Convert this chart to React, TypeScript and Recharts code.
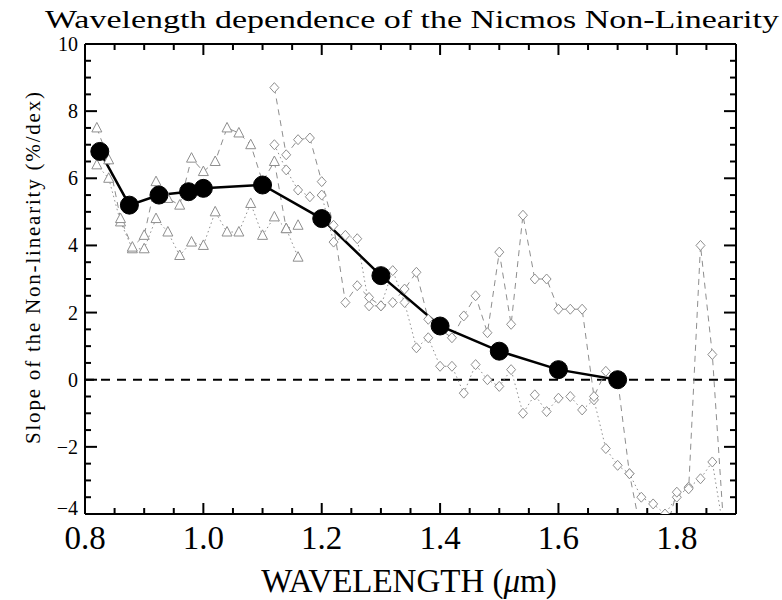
import React from 'react';
import { LineChart, Line, XAxis, YAxis, ReferenceLine } from 'recharts';

// NICMOS non-linearity slope vs wavelength (um)
const mainX = [0.825, 0.875, 0.925, 0.975, 1.0, 1.1, 1.2, 1.3, 1.4, 1.5, 1.6, 1.7];
const mainY = [6.8, 5.2, 5.5, 5.6, 5.7, 5.8, 4.8, 3.1, 1.6, 0.85, 0.3, 0.0];

// narrow-band samples, short wavelengths (triangles)
const triX = [0.82, 0.84, 0.86, 0.88, 0.9, 0.92, 0.94, 0.96, 0.98, 1.0, 1.02, 1.04, 1.06, 1.08, 1.1, 1.12, 1.14, 1.16];
const triDashed = [7.5, 6.55, 4.8, 3.95, 4.3, 5.9, 5.4, 5.2, 6.6, 6.2, 6.5, 7.5, 7.35, 7.0, 5.9, 6.5, 4.5, 4.6];
const triDotted = [6.4, 6.0, 4.7, 3.9, 3.9, 4.8, 4.4, 3.7, 4.1, 4.0, 5.0, 4.4, 4.4, 5.25, 4.3, 4.85, 4.5, 3.65];

// narrow-band samples, long wavelengths (diamonds)
const diaX = [
  1.12, 1.14, 1.16, 1.18, 1.2, 1.22, 1.24, 1.26, 1.28, 1.3, 1.32, 1.34, 1.36, 1.38, 1.4, 1.42, 1.44, 1.46, 1.48, 1.5,
  1.52, 1.54, 1.56, 1.58, 1.6, 1.62, 1.64, 1.66, 1.68, 1.7, 1.72, 1.74, 1.76, 1.78, 1.8, 1.82, 1.84, 1.86, 1.88,
];
const diaDashed = [
  8.7, 6.7, 7.15, 7.2, 5.9, 4.6, 2.3, 2.8, 2.45, 2.2, 2.3, 2.7, 3.2, 1.8, 1.5, 1.25, 1.9, 2.5, 1.4, 3.8,
  1.65, 4.9, 3.0, 3.0, 2.1, 2.1, 2.1, -0.5, 0.25, 0.0, -2.8, -4.6, -4.8, -4.6, -3.35, -3.25, 4.0, 0.75, -4.6,
];
const diaDotted = [
  7.0, 6.25, 5.65, 5.45, 5.5, 4.1, 4.3, 4.2, 2.2, 2.2, 3.25, 2.3, 0.95, 1.25, 0.4, 0.4, -0.4, 0.45, 0.0, -0.2,
  0.3, -1.0, -0.45, -0.95, -0.55, -0.5, -0.9, -0.6, -2.05, -2.55, -2.8, -3.5, -3.7, -4.0, -3.5, -3.2, -2.95, -2.45, -4.6,
];

const xTicks = [0.8, 0.85, 0.9, 0.95, 1.0, 1.05, 1.1, 1.15, 1.2, 1.25, 1.3, 1.35, 1.4, 1.45, 1.5, 1.55, 1.6, 1.65, 1.7, 1.75, 1.8, 1.85, 1.9];
const yTicks = [-4, -3.5, -3, -2.5, -2, -1.5, -1, -0.5, 0, 0.5, 1, 1.5, 2, 2.5, 3, 3.5, 4, 4.5, 5, 5.5, 6, 6.5, 7, 7.5, 8, 8.5, 9, 9.5, 10];

const zip = (xs: number[], ys: number[]) => xs.map((x, i) => ({ x, y: ys[i] }));

const GRAY = '#8e8e8e';
const SERIF = '"Liberation Serif", "DejaVu Serif", serif';

const isMajorX = (v: number) => Math.abs(v * 5 - Math.round(v * 5)) < 1e-6 && v < 1.85;
const isMajorY = (v: number) => Math.abs(v / 2 - Math.round(v / 2)) < 1e-6;

const Triangle = (p: any) => {
  const { cx, cy, index } = p;
  if (cx == null || cy == null) return <g key={index} />;
  return (
    <path
      key={index}
      d={`M${cx},${cy - 5.5} L${cx + 5},${cy + 4} L${cx - 5},${cy + 4} Z`}
      fill="#fff"
      stroke={GRAY}
      strokeWidth={1}
    />
  );
};

const Diamond = (p: any) => {
  const { cx, cy, index } = p;
  if (cx == null || cy == null) return <g key={index} />;
  return (
    <path
      key={index}
      d={`M${cx},${cy - 5} L${cx + 4.5},${cy} L${cx},${cy + 5} L${cx - 4.5},${cy} Z`}
      fill="#fff"
      stroke={GRAY}
      strokeWidth={1}
    />
  );
};

const BottomTick = ({ x, y, payload }: any) => {
  const v = payload.value;
  const major = isMajorX(v);
  return (
    <g>
      <line x1={x} x2={x} y1={y} y2={y - (major ? 11 : 6)} stroke="#000" strokeWidth={2} />
      {major && (
        <text x={x} y={y + 35} textAnchor="middle" fontSize={33} fontFamily={SERIF} fill="#000">
          {v.toFixed(1)}
        </text>
      )}
    </g>
  );
};

const TopTick = ({ x, y, payload }: any) => {
  const major = isMajorX(payload.value);
  return <line x1={x} x2={x} y1={y} y2={y + (major ? 11 : 6)} stroke="#000" strokeWidth={2} />;
};

const LeftTick = ({ x, y, payload }: any) => {
  const v = payload.value;
  const major = isMajorY(v);
  // the bottom label sits a little higher so it clears the first x label
  const dy = v === -4 ? 1 : 7;
  return (
    <g>
      <line x1={x} x2={x + (major ? 12 : 6)} y1={y} y2={y} stroke="#000" strokeWidth={2} />
      {major && (
        <text x={x - 7} y={y + dy} textAnchor="end" fontSize={20} fontFamily={SERIF} fill="#000">
          {v < 0 ? `\u2212${-v}` : v}
        </text>
      )}
    </g>
  );
};

const RightTick = ({ x, y, payload }: any) => {
  const major = isMajorY(payload.value);
  return <line x1={x} x2={x - (major ? 12 : 6)} y1={y} y2={y} stroke="#000" strokeWidth={2} />;
};

export default function App() {
  const axisLine = { stroke: '#000', strokeWidth: 2 };
  return (
    <div style={{ position: 'absolute', left: 0, top: 0, width: 782, height: 600, background: '#fff' }}>
      <LineChart width={782} height={600} margin={{ top: 34, right: 36, bottom: 56, left: 25 }}>
        <XAxis
          xAxisId="b"
          type="number"
          dataKey="x"
          domain={[0.8, 1.9]}
          allowDataOverflow
          ticks={xTicks}
          interval={0}
          tickSize={0}
          tickMargin={0}
          height={30}
          axisLine={axisLine}
          tick={<BottomTick />}
        />
        <XAxis
          xAxisId="t"
          orientation="top"
          type="number"
          dataKey="x"
          domain={[0.8, 1.9]}
          allowDataOverflow
          ticks={xTicks}
          interval={0}
          tickSize={0}
          tickMargin={0}
          height={10}
          axisLine={axisLine}
          tick={<TopTick />}
        />
        <YAxis
          yAxisId="l"
          type="number"
          domain={[-4, 10]}
          allowDataOverflow
          ticks={yTicks}
          interval={0}
          tickSize={0}
          tickMargin={0}
          width={60}
          axisLine={axisLine}
          tick={<LeftTick />}
        />
        <YAxis
          yAxisId="r"
          orientation="right"
          type="number"
          domain={[-4, 10]}
          allowDataOverflow
          ticks={yTicks}
          interval={0}
          tickSize={0}
          tickMargin={0}
          width={10}
          axisLine={axisLine}
          tick={<RightTick />}
        />
        <ReferenceLine xAxisId="b" yAxisId="l" y={0} stroke="#000" strokeWidth={2} strokeDasharray="9 7" />
        <Line
          xAxisId="b"
          yAxisId="l"
          data={zip(triX, triDotted)}
          dataKey="y"
          stroke={GRAY}
          strokeWidth={1}
          strokeDasharray="1.5 3"
          dot={Triangle}
          isAnimationActive={false}
        />
        <Line
          xAxisId="b"
          yAxisId="l"
          data={zip(triX, triDashed)}
          dataKey="y"
          stroke={GRAY}
          strokeWidth={1}
          strokeDasharray="6 5"
          dot={Triangle}
          isAnimationActive={false}
        />
        <Line
          xAxisId="b"
          yAxisId="l"
          data={zip(diaX, diaDotted)}
          dataKey="y"
          stroke={GRAY}
          strokeWidth={1}
          strokeDasharray="1.5 3"
          dot={Diamond}
          isAnimationActive={false}
        />
        <Line
          xAxisId="b"
          yAxisId="l"
          data={zip(diaX, diaDashed)}
          dataKey="y"
          stroke={GRAY}
          strokeWidth={1}
          strokeDasharray="6 5"
          dot={Diamond}
          isAnimationActive={false}
        />
        <Line
          xAxisId="b"
          yAxisId="l"
          data={zip(mainX, mainY)}
          dataKey="y"
          stroke="#000"
          strokeWidth={2.5}
          dot={{ r: 9, fill: '#000', stroke: '#000', strokeWidth: 1 }}
          isAnimationActive={false}
        />
      </LineChart>
      <svg width={782} height={600} style={{ position: 'absolute', left: 0, top: 0, pointerEvents: 'none' }}>
        <text
          x={412}
          y={28}
          textAnchor="middle"
          fontSize={26}
          fontFamily={SERIF}
          textLength={734}
          lengthAdjust="spacingAndGlyphs"
          fill="#000"
        >
          Wavelength dependence of the Nicmos Non-Linearity
        </text>
        <text
          transform="rotate(-90)"
          x={-268}
          y={40}
          textAnchor="middle"
          fontSize={21}
          fontFamily={SERIF}
          textLength={352}
          fill="#000"
        >
          Slope of the Non-linearity (%/dex)
        </text>
        <text x={409} y={592} textAnchor="middle" fontSize={33} fontFamily={SERIF} fill="#000">
          WAVELENGTH (<tspan fontStyle="italic">μ</tspan>m)
        </text>
      </svg>
    </div>
  );
}
